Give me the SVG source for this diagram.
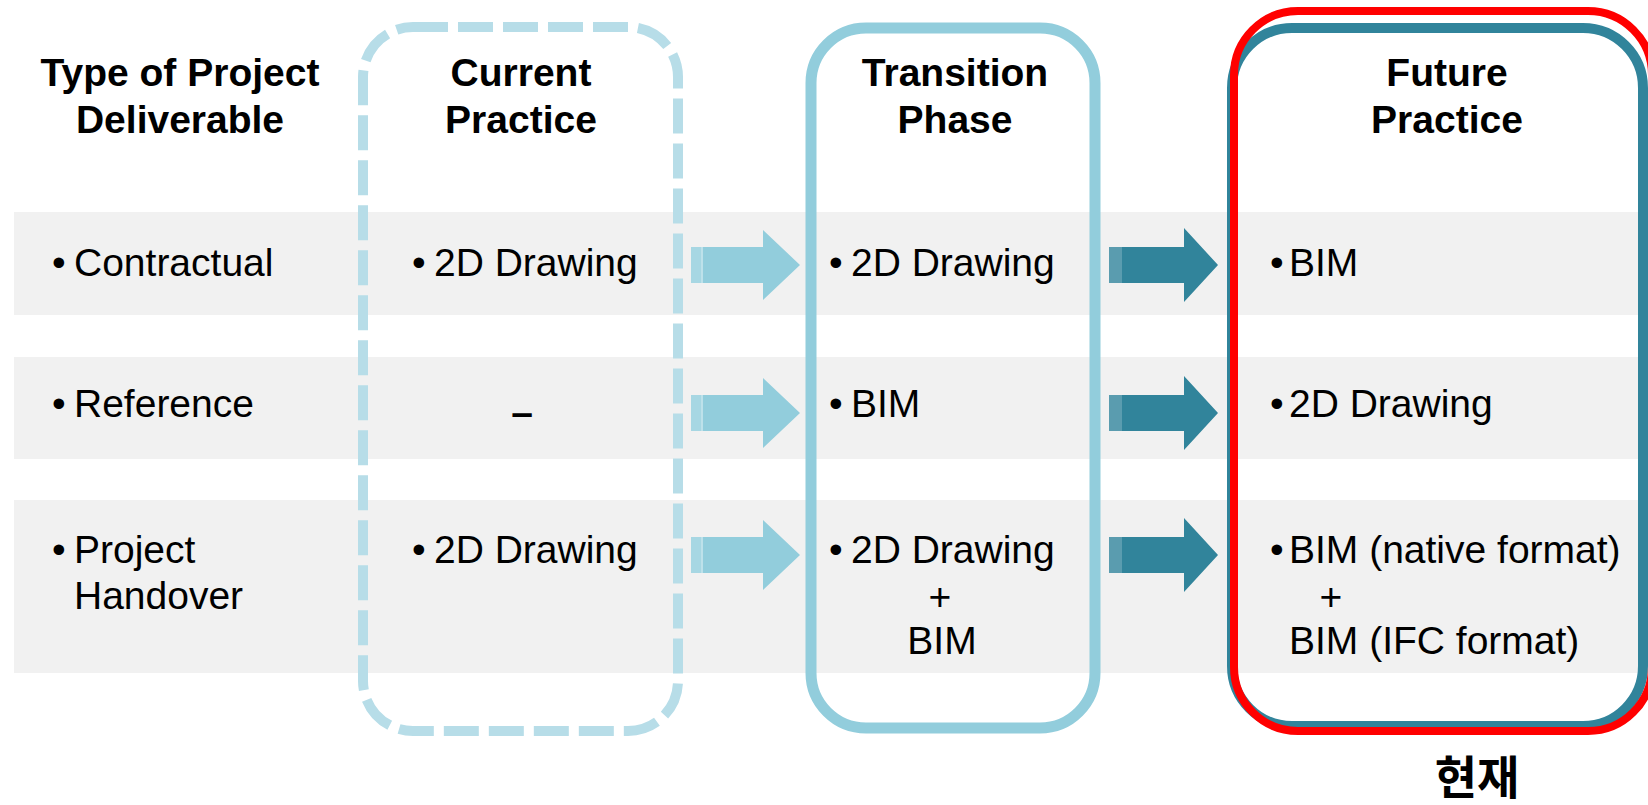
<svg xmlns="http://www.w3.org/2000/svg" width="1648" height="805" viewBox="0 0 1648 805">
<defs>
<style>
.band{fill:#f1f1f1}
.hd{font-family:"Liberation Sans",Arial,sans-serif;font-weight:bold;font-size:39px;fill:#000;text-anchor:middle}
.tx{font-family:"Liberation Sans",Arial,sans-serif;font-size:39px;fill:#000}
.mid{text-anchor:middle}
.light{fill:#92cddc}
.dark{fill:#31849b}
.hl{fill:#fff;opacity:0.2}
.hl2{fill:#fff;opacity:0.4}
</style>
<polygon id="arr" points="0,-18 72,-18 72,-35 109,0 72,35 72,18 0,18"/>
</defs>
<rect width="1648" height="805" fill="#fff"/>
<g id="rows">
<rect class="band" x="14" y="212" width="1634" height="103"/>
<rect class="band" x="14" y="357" width="1634" height="102"/>
<rect class="band" x="14" y="500" width="1634" height="173"/>
</g>
<g id="col-type">
<text class="hd" x="180" y="86">Type of Project</text>
<text class="hd" x="180" y="133">Deliverable</text>
<text class="tx" x="52" y="276">•</text><text class="tx" x="74" y="276">Contractual</text>
<text class="tx" x="52" y="417">•</text><text class="tx" x="74" y="417">Reference</text>
<text class="tx" x="52" y="563">•</text><text class="tx" x="74" y="563">Project</text>
<text class="tx" x="74" y="609">Handover</text>
</g>
<g id="col-current">
<rect x="363" y="27" width="315" height="704" rx="50" fill="none" stroke="#b7dde8" stroke-width="10" stroke-dasharray="35 10"/>
<text class="hd" x="521" y="86">Current</text>
<text class="hd" x="521" y="133">Practice</text>
<text class="tx" x="412" y="276">•</text><text class="tx" x="434" y="276">2D Drawing</text>
<text class="tx mid" x="522" y="426" font-weight="bold" font-size="44">–</text>
<text class="tx" x="412" y="563">•</text><text class="tx" x="434" y="563">2D Drawing</text>
</g>
<g id="col-transition">
<rect x="811" y="28" width="284" height="700" rx="55" fill="none" stroke="#92cddc" stroke-width="11"/>
<text class="hd" x="955" y="86">Transition</text>
<text class="hd" x="955" y="133">Phase</text>
<text class="tx" x="829" y="276">•</text><text class="tx" x="851" y="276">2D Drawing</text>
<text class="tx" x="829" y="417">•</text><text class="tx" x="851" y="417">BIM</text>
<text class="tx" x="829" y="563">•</text><text class="tx" x="851" y="563">2D Drawing</text>
<text class="tx mid" x="940" y="610">+</text>
<text class="tx mid" x="942" y="654">BIM</text>
</g>
<g id="col-future">
<rect x="1232" y="28" width="411" height="698" rx="60" fill="none" stroke="#31849b" stroke-width="10"/>
<rect x="1234" y="11" width="418" height="720" rx="64" fill="none" stroke="#ff0000" stroke-width="8"/>
<text class="hd" x="1447" y="86">Future</text>
<text class="hd" x="1447" y="133">Practice</text>
<text class="tx" x="1270" y="276">•</text><text class="tx" x="1289" y="276">BIM</text>
<text class="tx" x="1270" y="417">•</text><text class="tx" x="1289" y="417">2D Drawing</text>
<text class="tx" x="1270" y="563">•</text><text class="tx" x="1289" y="563">BIM (native format)</text>
<text class="tx mid" x="1331" y="610">+</text>
<text class="tx" x="1289" y="654">BIM (IFC format)</text>
</g>
<g id="connectors">
<g class="light">
<use href="#arr" x="691" y="265"/>
<use href="#arr" x="691" y="413"/>
<use href="#arr" x="691" y="555"/>
</g>
<g>
<rect class="hl" x="691" y="247" width="10" height="36"/><rect class="hl2" x="701" y="247" width="2" height="36"/>
<rect class="hl" x="691" y="395" width="10" height="36"/><rect class="hl2" x="701" y="395" width="2" height="36"/>
<rect class="hl" x="691" y="537" width="10" height="36"/><rect class="hl2" x="701" y="537" width="2" height="36"/>
</g>
<g class="dark">
<polygon points="1109,247 1184,247 1184,228 1218,265 1184,302 1184,283 1109,283"/>
<polygon points="1109,395 1184,395 1184,376 1218,413 1184,450 1184,431 1109,431"/>
<polygon points="1109,537 1184,537 1184,518 1218,555 1184,592 1184,573 1109,573"/>
</g>
<g>
<rect class="hl" x="1109" y="247" width="13" height="36"/>
<rect class="hl" x="1109" y="395" width="13" height="36"/>
<rect class="hl" x="1109" y="537" width="13" height="36"/>
</g>
</g>
<g id="label-now">
<text x="1477" y="794" text-anchor="middle" font-family="'Noto Sans CJK KR','Noto Sans CJK SC',sans-serif" font-weight="bold" font-size="46" fill="#000">현재</text>
</g>
</svg>
